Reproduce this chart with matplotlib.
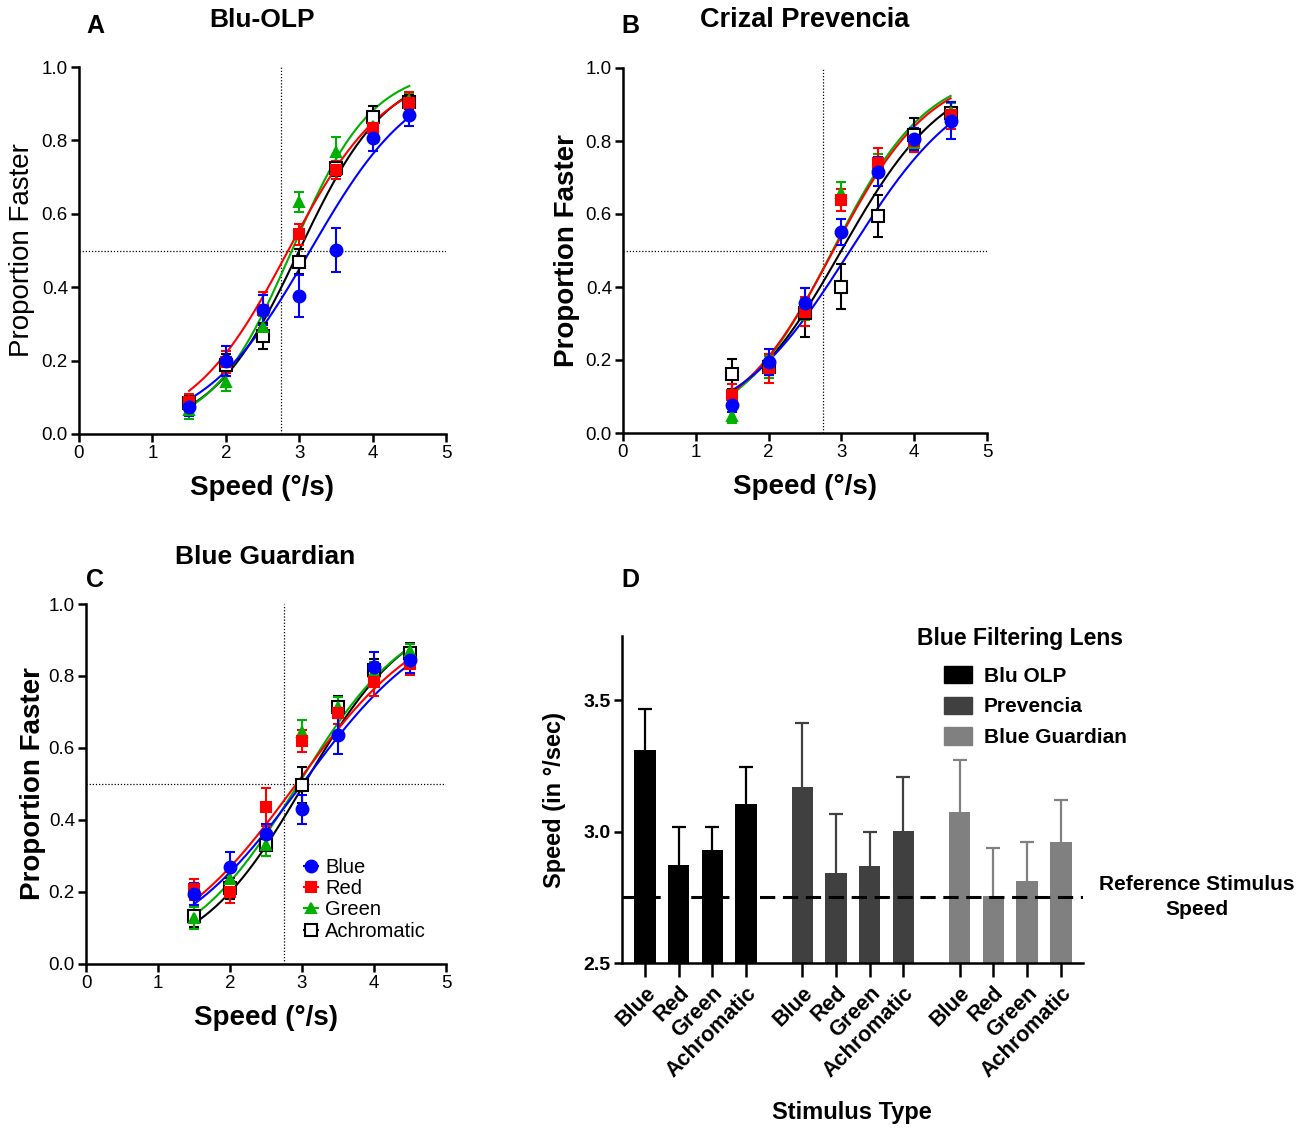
import numpy as np
import matplotlib
matplotlib.use("Agg")
import matplotlib.pyplot as plt
from matplotlib.lines import Line2D
from matplotlib.patches import Patch

plt.rcParams['font.family'] = ['Liberation Sans', 'DejaVu Sans']

# ---------------- data: psychometric panels ----------------
speeds = [1.5, 2.0, 2.5, 3.0, 3.5, 4.0, 4.5]
stim_names = ['Blue', 'Red', 'Green', 'Achromatic']
ref_speed = 2.75

# Panel A: Blu-OLP
a_blue = [0.074, 0.199, 0.338, 0.376, 0.501, 0.806, 0.869]
a_blue_err = [0.025, 0.04, 0.04, 0.057, 0.06, 0.036, 0.03]
a_red = [0.088, 0.197, 0.338, 0.544, 0.719, 0.833, 0.901]
a_red_err = [0.02, 0.03, 0.05, 0.028, 0.025, 0.03, 0.03]
a_green = [0.065, 0.143, 0.292, 0.633, 0.769, 0.84, 0.91]
a_green_err = [0.025, 0.025, 0.03, 0.027, 0.04, 0.03, 0.02]
a_achro = [0.084, 0.188, 0.267, 0.47, 0.724, 0.863, 0.905]
a_achro_err = [0.02, 0.03, 0.036, 0.035, 0.02, 0.03, 0.02]
# fitted logistic parameters (PSE, spread) for each curve
a_pse = [3.15, 2.85, 2.90, 3.00]
a_spread = [0.73, 0.67, 0.55, 0.60]

# Panel B: Crizal Prevencia
b_blue = [0.077, 0.195, 0.357, 0.55, 0.716, 0.805, 0.856]
b_blue_err = [0.02, 0.035, 0.04, 0.036, 0.04, 0.03, 0.05]
b_red = [0.104, 0.177, 0.332, 0.638, 0.741, 0.80, 0.871]
b_red_err = [0.03, 0.04, 0.04, 0.03, 0.04, 0.03, 0.037]
b_green = [0.047, 0.18, 0.34, 0.657, 0.735, 0.794, 0.88]
b_green_err = [0.02, 0.03, 0.03, 0.032, 0.03, 0.025, 0.025]
b_achro = [0.161, 0.18, 0.33, 0.401, 0.595, 0.816, 0.876]
b_achro_err = [0.041, 0.03, 0.068, 0.062, 0.058, 0.046, 0.03]
b_pse = [3.12, 2.89, 2.88, 3.00]
b_spread = [0.80, 0.67, 0.65, 0.72]

# Panel C: Blue Guardian
c_blue = [0.194, 0.27, 0.36, 0.43, 0.636, 0.826, 0.844]
c_blue_err = [0.03, 0.042, 0.03, 0.04, 0.054, 0.04, 0.035]
c_red = [0.207, 0.20, 0.435, 0.62, 0.698, 0.784, 0.833]
c_red_err = [0.03, 0.03, 0.053, 0.03, 0.03, 0.04, 0.03]
c_green = [0.127, 0.235, 0.33, 0.645, 0.713, 0.81, 0.87]
c_green_err = [0.03, 0.03, 0.03, 0.034, 0.03, 0.03, 0.02]
c_achro = [0.133, 0.21, 0.33, 0.496, 0.715, 0.817, 0.863]
c_achro_err = [0.03, 0.03, 0.03, 0.05, 0.03, 0.03, 0.03]
c_pse = [3.00, 2.92, 2.95, 3.03]
c_spread = [0.93, 0.92, 0.78, 0.74]

# ---------------- data: panel D ----------------
lens_names = ['Blu OLP', 'Prevencia', 'Blue Guardian']
d_bluolp = [3.31, 2.873, 2.931, 3.106]
d_bluolp_err = [0.158, 0.143, 0.087, 0.139]
d_prevencia = [3.169, 2.843, 2.868, 3.002]
d_prevencia_err = [0.246, 0.226, 0.129, 0.205]
d_guardian = [3.074, 2.755, 2.812, 2.961]
d_guardian_err = [0.197, 0.181, 0.147, 0.159]

# ---------------- styles ----------------
W, H = 1311, 1128
fig = plt.figure(figsize=(W / 100, H / 100), dpi=100)

def fx(px):
    return px / W

def fy(py):
    return 1 - py / H

styles = [
    dict(color='#0000ff', marker='o', ms=8.5, mfc='#0000ff'),
    dict(color='#ff0000', marker='s', ms=7.5, mfc='#ff0000'),
    dict(color='#00b000', marker='^', ms=7.5, mfc='#00b000'),
    dict(color='#000000', marker='s', ms=8, mfc='white'),
]
# layering: achromatic at the bottom, blue on top
layer = [3, 2, 1, 0]
SPINE_W = 1.8


def psych_panel(rect, series, errs, pses, spreads, ylabel_bold, ylabel_x):
    ax = fig.add_axes(rect)
    ax.axvline(ref_speed, color='black', lw=0.9, ls=(0, (1, 1.5)), zorder=1)
    ax.axhline(0.5, color='black', lw=0.9, ls=(0, (1, 1.5)), zorder=1)
    xs = np.linspace(speeds[0], speeds[-1], 200)
    for k in range(4):
        st = styles[k]
        curve = 1.0 / (1.0 + np.exp(-(xs - pses[k]) / spreads[k]))
        ax.plot(xs, curve, color=st['color'], lw=1.5, zorder=2 + layer[k] * 0.1)
    for k in range(4):
        st = styles[k]
        ax.errorbar(speeds, series[k], yerr=errs[k], fmt='none',
                    ecolor=st['color'], elinewidth=1.5, capsize=3.6,
                    capthick=1.5, zorder=3 + layer[k] * 0.1)
        ax.plot(speeds, series[k], ls='none', marker=st['marker'],
                ms=st['ms'], mfc=st['mfc'], mec=st['color'],
                mew=1.5, zorder=4 + layer[k] * 0.1, clip_on=False)
    ax.set_xlim(0, 5)
    ax.set_ylim(0, 1)
    ax.set_xticks([0, 1, 2, 3, 4, 5])
    ax.set_yticks([0.0, 0.2, 0.4, 0.6, 0.8, 1.0])
    ax.set_yticklabels(['0.0', '0.2', '0.4', '0.6', '0.8', '1.0'])
    for s in ['top', 'right']:
        ax.spines[s].set_visible(False)
    for s in ['left', 'bottom']:
        ax.spines[s].set_linewidth(SPINE_W)
    ax.tick_params(direction='out', length=6, width=SPINE_W, labelsize=13.5,
                   pad=2)
    ax.set_xlabel('Speed (°/s)', fontsize=20, fontweight='bold', labelpad=9)
    ax.set_ylabel('Proportion Faster', fontsize=20,
                  fontweight='bold' if ylabel_bold else 'normal')
    ax.yaxis.set_label_coords(ylabel_x, 0.5)
    return ax


axA = psych_panel([fx(79), fy(434), fx(446) - fx(79), fy(67) - fy(434)],
                  [a_blue, a_red, a_green, a_achro],
                  [a_blue_err, a_red_err, a_green_err, a_achro_err],
                  a_pse, a_spread, False, -0.12)
axB = psych_panel([fx(623), fy(433), fx(987) - fx(623), fy(68) - fy(433)],
                  [b_blue, b_red, b_green, b_achro],
                  [b_blue_err, b_red_err, b_green_err, b_achro_err],
                  b_pse, b_spread, True, -0.118)
axC = psych_panel([fx(86), fy(964), fx(446) - fx(86), fy(604) - fy(964)],
                  [c_blue, c_red, c_green, c_achro],
                  [c_blue_err, c_red_err, c_green_err, c_achro_err],
                  c_pse, c_spread, True, -0.111)

handles = []
for k in range(4):
    st = styles[k]
    handles.append(Line2D([0], [0], color=st['color'], lw=1.5,
                          marker=st['marker'], ms=st['ms'], mfc=st['mfc'],
                          mec=st['color'], mew=1.5))
axC.legend(handles, stim_names, loc='upper left',
           bbox_to_anchor=(fx(304), fy(858)), bbox_transform=fig.transFigure,
           frameon=False, fontsize=14.5, handlelength=0.7,
           handletextpad=0.35, labelspacing=0.11, borderpad=0,
           borderaxespad=0)

# ---------------- panel D ----------------
axD = fig.add_axes([fx(622), fy(963), fx(1083) - fx(622), fy(636) - fy(963)])
bar_colors = ['#000000', '#404040', '#808080']
group_step = 4.67
d_means = [d_bluolp, d_prevencia, d_guardian]
d_errs = [d_bluolp_err, d_prevencia_err, d_guardian_err]
tick_pos = []
tick_lab = []
for g in range(3):
    pos = [g * group_step + i for i in range(4)]
    axD.bar(pos, [m - 2.5 for m in d_means[g]], bottom=2.5, width=0.64,
            color=bar_colors[g], label=lens_names[g], zorder=2)
    eb = axD.errorbar(pos, d_means[g], yerr=[[0] * 4, d_errs[g]], fmt='none',
                      ecolor=bar_colors[g], elinewidth=1.6, capsize=4.7,
                      capthick=1.6, zorder=1)
    eb[1][0].set_visible(False)  # no cap at the bar top
    tick_pos += pos
    tick_lab += stim_names
axD.axhline(ref_speed, color='black', lw=2.2, ls=(0, (5, 2.5)), zorder=3)
axD.set_xlim(-0.68, 13.0)
axD.set_ylim(2.5, 3.745)
axD.set_yticks([2.5, 3.0, 3.5])
axD.set_yticklabels(['2.5', '3.0', '3.5'], fontweight='bold', fontsize=14)
axD.set_xticks(tick_pos)
axD.set_xticklabels(tick_lab, rotation=45, ha='right', rotation_mode='anchor',
                    fontweight='bold', fontsize=15.5)
for s in ['top', 'right']:
    axD.spines[s].set_visible(False)
for s in ['left', 'bottom']:
    axD.spines[s].set_linewidth(SPINE_W)
axD.tick_params(axis='x', direction='out', length=10, width=SPINE_W, pad=4)
axD.tick_params(axis='y', direction='out', length=6, width=SPINE_W, pad=2)
axD.set_ylabel('Speed (in °/sec)', fontsize=17, fontweight='bold')
axD.yaxis.set_label_coords(-0.121, 0.5)

leg_handles = [Patch(facecolor=c, edgecolor=c) for c in bar_colors]
axD.legend(leg_handles, lens_names, loc='upper left',
           bbox_to_anchor=(fx(944), fy(666)), bbox_transform=fig.transFigure,
           frameon=False, handlelength=1.35, handleheight=0.9,
           handletextpad=0.55, labelspacing=0.52, borderpad=0,
           borderaxespad=0, prop=dict(weight='bold', size=15))
fig.text(fx(1020), fy(639), 'Blue Filtering Lens', fontsize=16.5,
         fontweight='bold', ha='center', va='center')
fig.text(fx(1197), fy(897), 'Reference Stimulus\nSpeed', fontsize=15,
         fontweight='bold', ha='center', va='center', linespacing=1.35)
fig.text(fx(852), fy(1113), 'Stimulus Type', fontsize=17, fontweight='bold',
         ha='center', va='center')

# ---------------- titles / panel letters ----------------
fig.text(fx(95), fy(26), 'A', fontsize=18, fontweight='bold', ha='center', va='center')
fig.text(fx(262), fy(20), 'Blu-OLP', fontsize=19, fontweight='bold', ha='center', va='center')
fig.text(fx(630), fy(26), 'B', fontsize=18, fontweight='bold', ha='center', va='center')
fig.text(fx(805), fy(20), 'Crizal Prevencia', fontsize=19.5, fontweight='bold', ha='center', va='center')
fig.text(fx(95), fy(580), 'C', fontsize=18, fontweight='bold', ha='center', va='center')
fig.text(fx(265), fy(557), 'Blue Guardian', fontsize=19, fontweight='bold', ha='center', va='center')
fig.text(fx(630), fy(580), 'D', fontsize=18, fontweight='bold', ha='center', va='center')

fig.savefig('out.png', dpi=100, facecolor='white')
